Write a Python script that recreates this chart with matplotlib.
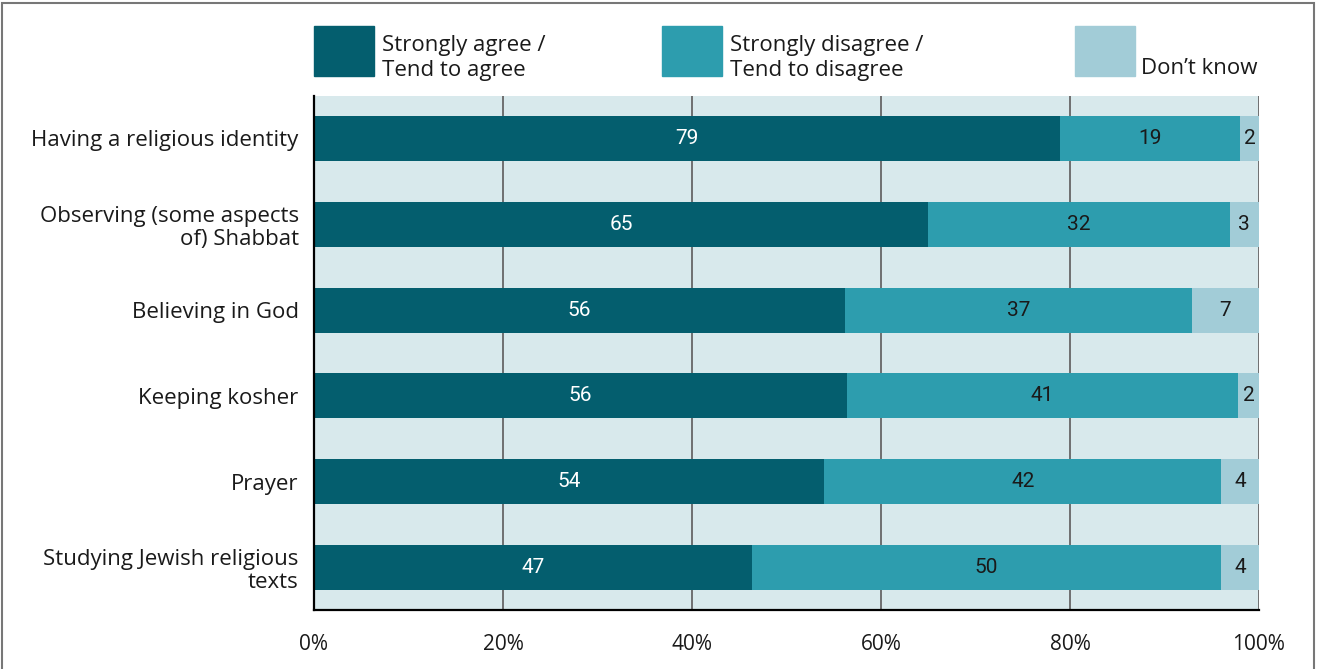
import matplotlib
matplotlib.use("Agg")
import matplotlib.pyplot as plt
from matplotlib.patches import Rectangle
import numpy as np

# data (bar widths in %, labels as printed)
categories = ["Having a religious identity",
              "Observing (some aspects\nof) Shabbat",
              "Believing in God",
              "Keeping kosher",
              "Prayer",
              "Studying Jewish religious\ntexts"]
agree = [78.9, 65.0, 56.2, 56.4, 54.0, 46.3]
disagree = [19.1, 31.9, 36.7, 41.4, 42.0, 49.7]
dont_know = [2.0, 3.1, 7.1, 2.2, 4.0, 4.0]
agree_lbl = [79, 65, 56, 56, 54, 47]
disagree_lbl = [19, 32, 37, 41, 42, 50]
dk_lbl = [2, 3, 7, 2, 4, 4]
xticks = [0, 20, 40, 60, 80, 100]
legend_names = ["Strongly agree /\nTend to agree",
                "Strongly disagree /\nTend to disagree",
                "Don\u2019t know"]

c_dark = "#045E6E"
c_mid = "#2D9DAE"
c_light = "#A2CCD7"
c_bg = "#D8E9EC"
txt = "#1a1a1a"

plt.rcParams['font.family'] = ['Open Sans', 'DejaVu Sans']
num_font = ['Roboto', 'DejaVu Sans']

fig = plt.figure(figsize=(13.19, 6.69), dpi=100)
ax = fig.add_axes([314/1319, 1-610/669, 945/1319, 514/669])
ax.set_facecolor(c_bg)

y = np.arange(len(categories))
h = 0.525
left2 = np.array(agree)
left3 = left2 + np.array(disagree)
ax.barh(y, agree, height=h, color=c_dark, zorder=3)
ax.barh(y, disagree, left=left2, height=h, color=c_mid, zorder=3)
ax.barh(y, dont_know, left=left3, height=h, color=c_light, zorder=3)

for i in range(len(categories)):
    ax.text(agree[i]/2, y[i], str(agree_lbl[i]), ha='center', va='center',
            color='white', fontsize=15, family=num_font, zorder=4)
    ax.text(left2[i] + disagree[i]/2, y[i], str(disagree_lbl[i]), ha='center',
            va='center', color=txt, fontsize=15, family=num_font, zorder=4)
    ax.text(left3[i] + dont_know[i]/2, y[i], str(dk_lbl[i]), ha='center',
            va='center', color=txt, fontsize=15, family=num_font, zorder=4)

for xv in xticks[1:]:
    ax.axvline(xv, color='#666666', lw=1.3, zorder=1)

ax.set_xlim(0, 100)
ax.set_ylim(len(categories) - 0.505, -0.495)
ax.set_yticks(y)
ax.set_yticklabels(categories, fontsize=16, color=txt, linespacing=1.15)
ax.set_xticks(xticks)
ax.set_xticklabels([f"{v}%" for v in xticks], fontsize=15, color=txt)
ax.tick_params(axis='both', length=0)
ax.tick_params(axis='x', pad=17)
ax.tick_params(axis='y', pad=11)
for s in ['top', 'right']:
    ax.spines[s].set_visible(False)
for s in ['left', 'bottom']:
    ax.spines[s].set_color('black')
    ax.spines[s].set_linewidth(1.6)
    ax.spines[s].set_zorder(5)

# legend squares drawn in figure pixels
W, H = 1319, 669
leg_x = [314, 662, 1075]
leg_c = [c_dark, c_mid, c_light]
for lx, lc, name in zip(leg_x, leg_c, legend_names):
    fig.patches.append(Rectangle((lx/W, 1-76/H), 60/W, 50/H, color=lc,
                                 transform=fig.transFigure))
    if "\n" in name:
        fig.text((lx+68)/W, 1-58/H, name, ha='left', va='center',
                 fontsize=16, color=txt, linespacing=1.22)
    else:
        fig.text((lx+66)/W, 1-68/H, name, ha='left', va='center',
                 fontsize=16, color=txt)

# outer frame
fig.patches.append(Rectangle((2/W, -0.05), 1312/W, 1.05 - 3/H, fill=False,
                             edgecolor='#777777', lw=1.5,
                             transform=fig.transFigure))

fig.savefig("out.png", dpi=100)
